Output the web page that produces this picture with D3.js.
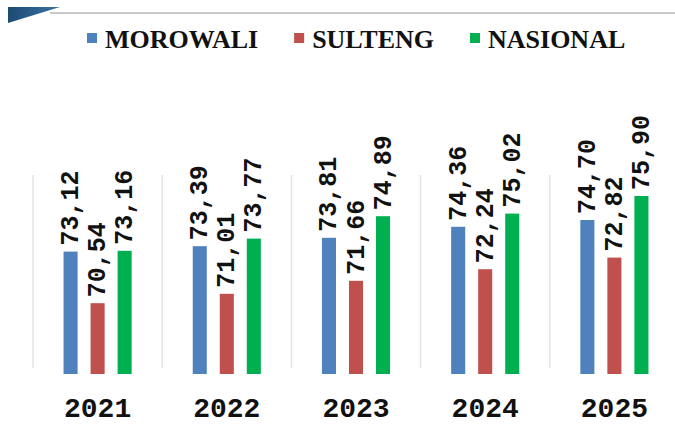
<html lang="en">
<head>
<meta charset="UTF-8">
<title>Morowali Sulteng Nasional</title>
<style>
  body { margin: 0; background: #fff; }
  svg { display: block; }
  .value { font-family: "Liberation Mono", monospace; font-weight: bold; font-size: 25px; fill: #111; }
  .year { font-family: "Liberation Mono", monospace; font-weight: bold; font-size: 28px; fill: #111; }
  .legend text { font-family: "Liberation Serif", serif; font-weight: bold; font-size: 26px; fill: #111; }
  .sep { stroke: #e4e4e4; stroke-width: 1.5px; }
</style>
</head>
<body>
<svg></svg>
<script src="https://cdnjs.cloudflare.com/ajax/libs/d3/7.8.5/d3.min.js"></script>
<script>

var years = ["2021", "2022", "2023", "2024", "2025"];
var series = ["MOROWALI", "SULTENG", "NASIONAL"];
var colors = ["#4f81bd", "#c0504d", "#00b050"];

var morowali = [73.12, 73.39, 73.81, 74.36, 74.70];
var sulteng  = [70.54, 71.01, 71.66, 72.24, 72.82];
var nasional = [73.16, 73.77, 74.89, 75.02, 75.90];

var values = [morowali, sulteng, nasional];

var width = 675,
    height = 427;

var svg = d3.select("svg")
  .attr("width", width)
  .attr("height", height);

// header decoration
var grad = svg.append("defs").append("linearGradient")
  .attr("id", "hdr").attr("x1", "0").attr("x2", "1");
grad.append("stop").attr("offset", "0").attr("stop-color", "#1c4a73");
grad.append("stop").attr("offset", "1").attr("stop-color", "#3a73a3");

svg.append("line")
  .attr("x1", 50).attr("x2", width)
  .attr("y1", 13).attr("y2", 13)
  .attr("stroke", "#c9c9c9").attr("stroke-width", 2);

svg.append("path")
  .attr("d", "M8,7L60,7L8,23Z")
  .attr("fill", "url(#hdr)");

var x0 = d3.scaleBand()
  .domain(years)
  .range([33, 679]);

var x1 = d3.scaleBand()
  .domain(series)
  .range([0, x0.bandwidth()])
  .paddingInner(0.48)
  .paddingOuter(1.13);

var y = d3.scaleLinear()
  .domain([67, 77])
  .range([374, 174]);

// separators between years
svg.selectAll("line.sep")
  .data(years)
  .enter()
  .append("line")
    .attr("class", "sep")
    .attr("x1", function(d){ return x0(d); })
    .attr("x2", function(d){ return x0(d); })
    .attr("y1", 175)
    .attr("y2", 368);

var groups = svg.selectAll("g.year-group")
  .data(years)
  .enter()
  .append("g")
    .attr("class", "year-group")
    .attr("transform", function(d){ return "translate(" + x0(d) + ",0)"; });

var cells = groups.selectAll("g.cell")
  .data(function(d, i){
    return series.map(function(s, j){
      return { series: s, value: values[j][i], color: colors[j] };
    });
  })
  .enter()
  .append("g")
    .attr("class", "cell");

cells.append("rect")
  .attr("x", function(d){ return x1(d.series); })
  .attr("width", x1.bandwidth())
  .attr("y", function(d){ return y(d.value); })
  .attr("height", function(d){ return y(67) - y(d.value); })
  .attr("fill", function(d){ return d.color; });

cells.append("text")
  .attr("class", "value")
  .attr("transform", function(d){
    return "translate(" + (x1(d.series) + x1.bandwidth() / 2) + "," + (y(d.value) - 6) + ") rotate(-90)";
  })
  .attr("dy", "0.3em")
  .text(function(d){ return d.value.toFixed(2).replace(".", ","); });

groups.append("text")
  .attr("class", "year")
  .attr("x", x0.bandwidth() / 2)
  .attr("y", 417)
  .attr("text-anchor", "middle")
  .text(function(d){ return d; });

// legend
var legend = svg.append("g").attr("class", "legend");
var lx = 87;
series.forEach(function(s, i){
  var item = legend.append("g").attr("transform", "translate(" + lx + ",0)");
  item.append("rect")
    .attr("x", 0).attr("y", 33)
    .attr("width", 10).attr("height", 10)
    .attr("fill", colors[i]);
  var t = item.append("text")
    .attr("x", 18).attr("y", 48)
    .text(s);
  lx += 18 + t.node().getComputedTextLength() + 36;
});

</script>
</body>
</html>
